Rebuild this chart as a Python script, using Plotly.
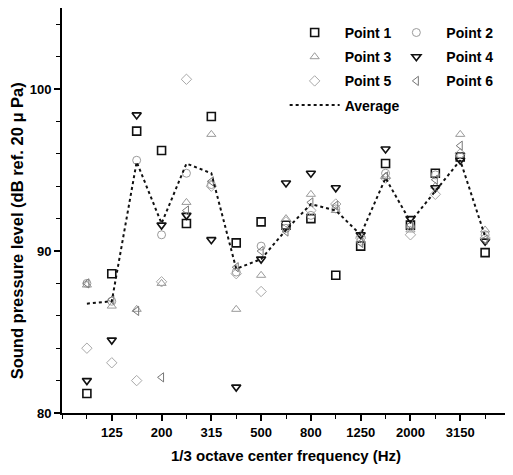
import plotly.graph_objects as go

freqs = ["100", "125", "160", "200", "250", "315", "400", "500", "630",
         "800", "1000", "1250", "1600", "2000", "2500", "3150", "4000"]
tick_labels = ["125", "200", "315", "500", "800", "1250", "2000", "3150"]

point1 = [81.2, 88.6, 97.4, 96.2, 91.7, 98.3, 90.5, 91.8, 91.6, 92.0, 88.5, 90.3, 95.4, 91.6, 94.8, 95.8, 89.9]
point2 = [88.0, 86.9, 95.6, 91.0, 94.8, 94.1, 88.7, 90.3, 91.4, 92.2, 92.6, 90.6, 94.8, 91.5, 94.7, 95.8, 91.0]
point3 = [87.9, 86.6, 86.4, 88.0, 93.0, 97.2, 86.4, 88.5, 92.0, 93.5, 92.5, 91.0, 94.6, 91.3, 94.0, 97.2, 91.3]
point4 = [82.0, 84.5, 98.4, 91.6, 92.2, 90.7, 81.6, 89.5, 94.2, 94.8, 93.9, 91.0, 96.3, 92.0, 93.9, 95.6, 90.6]
point5 = [84.0, 83.1, 82.0, 88.1, 100.6, 94.0, 88.6, 87.5, 91.8, 92.5, 92.9, 90.8, 94.5, 91.0, 93.5, 96.0, 90.8]
point6 = [88.0, 87.0, 86.3, 82.2, 92.5, 94.3, 89.0, 90.0, 91.2, 93.0, 92.8, 90.5, 94.6, 91.6, 94.4, 96.5, 90.7]
average = [86.75, 86.9, 95.5, 91.7, 95.4, 94.8, 88.9, 89.5, 91.3, 92.9, 92.5, 91.0, 94.5, 91.8, 93.7, 95.6, 90.9]

x_title = "1/3 octave center frequency (Hz)"
y_title = "Sound pressure level (dB ref. 20 \u03bc Pa)"

x_idx = list(range(len(freqs)))
tick_idx = [freqs.index(t) for t in tick_labels]

FONT = "Liberation Sans, Arial, sans-serif"

series = [
    ("Point 1", point1, "square-open", "#111111", 1.6, "legend"),
    ("Point 2", point2, "circle-open", "#9a9a9a", 1.0, "legend2"),
    ("Point 3", point3, "triangle-up-open", "#9a9a9a", 1.0, "legend"),
    ("Point 4", point4, "triangle-down-open", "#111111", 1.6, "legend2"),
    ("Point 5", point5, "diamond-open", "#a8a8a8", 1.0, "legend"),
    ("Point 6", point6, "triangle-left-open", "#777777", 1.0, "legend2"),
]

fig = go.Figure()
for name, vals, sym, col, lw, lg in series:
    fig.add_trace(go.Scatter(
        x=x_idx, y=vals, mode="markers", name=name, legend=lg,
        legendgroup=name,
        marker=dict(symbol=sym, size=8, color=col, line=dict(color=col, width=lw)),
    ))

fig.add_trace(go.Scatter(
    x=x_idx, y=average, mode="lines", name="Average", legend="legend",
    legendgroup="Average",
    line=dict(color="#111111", width=2, dash="dot"),
))

legend_common = dict(
    font=dict(family=FONT, size=14, color="#000000", weight="bold"),
    bgcolor="rgba(0,0,0,0)", borderwidth=0, tracegroupgap=3,
    xanchor="left", yanchor="top", itemwidth=50,
)

fig.update_layout(
    width=505, height=467,
    margin=dict(l=54, r=3, t=0, b=62),
    paper_bgcolor="white", plot_bgcolor="white",
    font=dict(family=FONT, color="#000000"),
    showlegend=True,
    legend=dict(x=0.497, y=0.978, **legend_common),
    legend2=dict(x=0.724, y=0.978, **legend_common),
    xaxis=dict(
        range=[-1, 17], automargin=False,
        tickmode="array", tickvals=tick_idx, ticktext=tick_labels,
        ticks="outside", ticklen=6, tickwidth=1.5, tickcolor="#000",
        minor=dict(tickmode="linear", tick0=0, dtick=1, ticks="outside",
                   ticklen=4, tickwidth=1.2, tickcolor="#000"),
        showline=True, linecolor="#000", linewidth=2, mirror=True,
        showgrid=False, zeroline=False,
        tickfont=dict(family=FONT, size=13, weight="bold"),
    ),
    yaxis=dict(
        range=[80, 105], automargin=False,
        tickmode="array", tickvals=[80, 90, 100],
        ticks="outside", ticklen=6, tickwidth=1.5, tickcolor="#000",
        minor=dict(tickmode="linear", tick0=80, dtick=2, ticks="outside",
                   ticklen=4, tickwidth=1.2, tickcolor="#000"),
        showline=True, linecolor="#000", linewidth=2, mirror="ticks",
        showgrid=False, zeroline=False,
        tickfont=dict(family=FONT, size=13, weight="bold"),
    ),
    annotations=[
        dict(text=x_title, xref="paper", yref="paper", x=0.5, y=-0.104,
             xanchor="center", yanchor="middle", showarrow=False,
             font=dict(family=FONT, size=15, weight="bold")),
        dict(text=y_title, xref="paper", yref="paper", x=-0.1, y=0.449,
             xanchor="center", yanchor="middle", showarrow=False, textangle=-90,
             font=dict(family=FONT, size=16.5, weight="bold")),
    ],
)

fig.write_html("out.html")
